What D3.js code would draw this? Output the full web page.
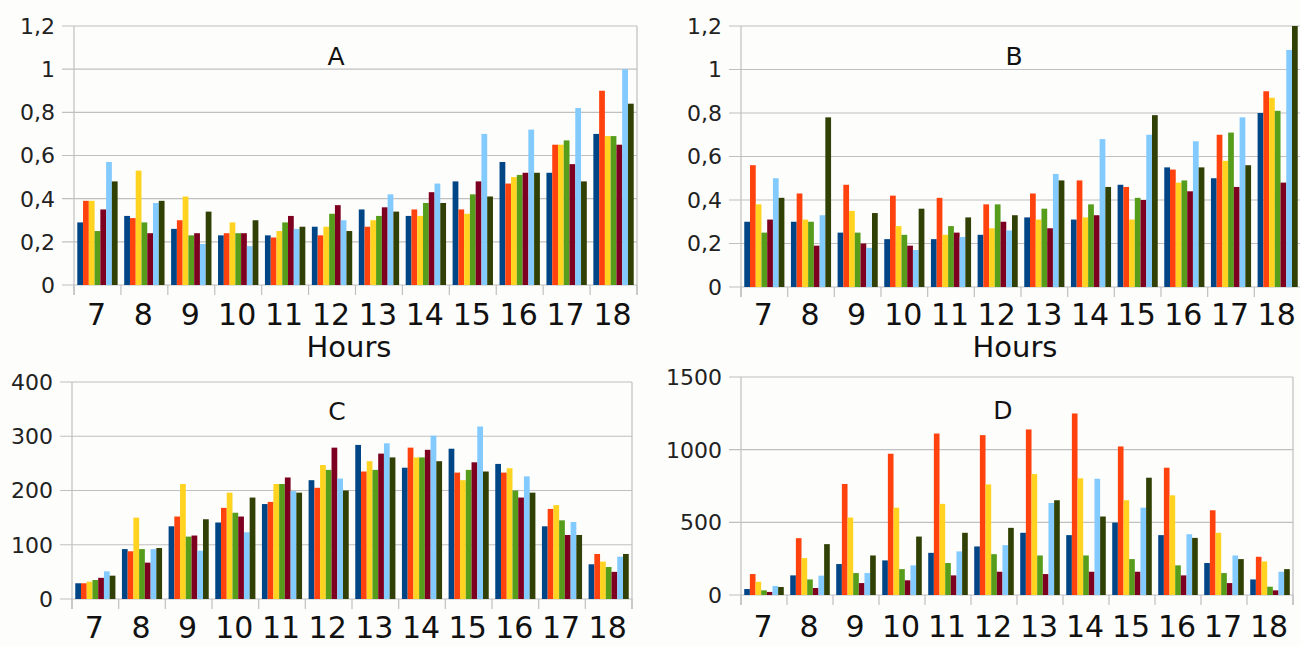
<!DOCTYPE html>
<html>
<head>
<meta charset="utf-8">
<script src="https://cdn.jsdelivr.net/npm/d3@7"></script>
<style>
  body { margin: 0; background: #fdfdfc; }
  svg { display: block; font-family: "DejaVu Sans", sans-serif; }
</style>
</head>
<body>
<div class="charts"></div>
<script>
// hours on the x axis (same for all four panels)
const hours = [7, 8, 9, 10, 11, 12, 13, 14, 15, 16, 17, 18]

// one row per series, one value per hour
const seriesA = [
  [0.29, 0.32, 0.26, 0.23, 0.23, 0.27, 0.35, 0.32, 0.48, 0.57, 0.52, 0.70],
  [0.39, 0.31, 0.30, 0.24, 0.22, 0.23, 0.27, 0.35, 0.35, 0.47, 0.65, 0.90],
  [0.39, 0.53, 0.41, 0.29, 0.25, 0.27, 0.30, 0.32, 0.33, 0.50, 0.65, 0.69],
  [0.25, 0.29, 0.23, 0.24, 0.29, 0.33, 0.32, 0.38, 0.42, 0.51, 0.67, 0.69],
  [0.35, 0.24, 0.24, 0.24, 0.32, 0.37, 0.36, 0.43, 0.48, 0.52, 0.56, 0.65],
  [0.57, 0.38, 0.19, 0.18, 0.26, 0.30, 0.42, 0.47, 0.70, 0.72, 0.82, 1.00],
  [0.48, 0.39, 0.34, 0.30, 0.27, 0.25, 0.34, 0.38, 0.41, 0.52, 0.48, 0.84]
]
const seriesB = [
  [0.30, 0.30, 0.25, 0.22, 0.22, 0.24, 0.32, 0.31, 0.47, 0.55, 0.50, 0.80],
  [0.56, 0.43, 0.47, 0.42, 0.41, 0.38, 0.43, 0.49, 0.46, 0.54, 0.70, 0.90],
  [0.38, 0.31, 0.35, 0.28, 0.24, 0.27, 0.31, 0.32, 0.31, 0.48, 0.58, 0.87],
  [0.25, 0.30, 0.25, 0.24, 0.28, 0.38, 0.36, 0.38, 0.41, 0.49, 0.71, 0.81],
  [0.31, 0.19, 0.20, 0.19, 0.25, 0.30, 0.27, 0.33, 0.40, 0.44, 0.46, 0.48],
  [0.50, 0.33, 0.18, 0.17, 0.23, 0.26, 0.52, 0.68, 0.70, 0.67, 0.78, 1.09],
  [0.41, 0.78, 0.34, 0.36, 0.32, 0.33, 0.49, 0.46, 0.79, 0.55, 0.56, 1.20]
]
const seriesC = [
  [29, 92, 134, 141, 175, 219, 284, 242, 277, 249, 134, 64],
  [29, 88, 152, 168, 179, 205, 235, 279, 233, 233, 166, 83],
  [32, 150, 212, 196, 212, 247, 254, 261, 219, 241, 173, 69],
  [35, 92, 115, 159, 212, 238, 238, 261, 238, 200, 145, 59],
  [39, 67, 117, 152, 224, 279, 268, 275, 252, 187, 118, 50],
  [51, 92, 89, 123, 199, 222, 287, 301, 318, 226, 142, 78],
  [43, 94, 147, 187, 196, 200, 261, 254, 235, 196, 118, 83]
]
const seriesD = [
  [41, 135, 213, 238, 290, 334, 428, 412, 498, 412, 220, 107],
  [144, 391, 764, 972, 1111, 1100, 1139, 1249, 1022, 876, 583, 263],
  [91, 254, 533, 601, 627, 761, 832, 803, 652, 686, 428, 231],
  [32, 107, 151, 178, 220, 281, 272, 272, 247, 204, 151, 57],
  [21, 48, 82, 101, 135, 160, 144, 160, 160, 135, 82, 32],
  [62, 133, 151, 204, 300, 343, 633, 800, 601, 418, 272, 160],
  [55, 350, 272, 402, 428, 462, 652, 540, 807, 393, 247, 178]
]

// y tick values
const ticksAB = [0, 0.2, 0.4, 0.6, 0.8, 1, 1.2]
const ticksC = [0, 100, 200, 300, 400]
const ticksD = [0, 500, 1000, 1500]

const titles = ['A', 'B', 'C', 'D']
const xTitle = 'Hours'

// libreoffice default palette
const colors = ['#004586', '#ff420e', '#ffd320', '#579d1c', '#7e0021', '#83caff', '#314004']

const svg = d3.select('.charts').append('svg')
    .attr('width', 1300)
    .attr('height', 646)

const fmt = v => String(v).replace('.', ',')

function drawPanel(p){
    const g = svg.append('g')

    const x0 = d3.scaleBand()
        .domain(hours)
        .range([p.left, p.right])
        .padding(0)
    const bw = x0.bandwidth()
    const x1 = d3.scaleBand()
        .domain(d3.range(p.series.length))
        .range([bw * 0.07, bw * 0.93])
        .padding(0)
    const y = d3.scaleLinear()
        .domain([0, d3.max(p.ticks)])
        .range([p.bottom, p.top])

    // gridlines + y tick marks
    g.selectAll('.grid').data(p.ticks).join('line')
        .attr('x1', p.left - 12)
        .attr('x2', p.right)
        .attr('y1', d => y(d))
        .attr('y2', d => y(d))
        .attr('stroke', '#c0c0c0')
        .attr('stroke-width', 1.2)

    g.selectAll('.ylab').data(p.ticks).join('text')
        .attr('x', p.left - 19)
        .attr('y', d => y(d))
        .attr('dy', '0.36em')
        .attr('text-anchor', 'end')
        .attr('font-size', 22)
        .attr('fill', '#222')
        .text(fmt)

    // x boundary ticks
    const bounds = hours.map(h => x0(h)).concat([p.right])
    g.selectAll('.xt').data(bounds).join('line')
        .attr('x1', d => d)
        .attr('x2', d => d)
        .attr('y1', p.bottom)
        .attr('y2', p.bottom + 10)
        .attr('stroke', '#c0c0c0')
        .attr('stroke-width', 1.2)

    // frame sides
    g.selectAll('.side').data([p.left, p.right]).join('line')
        .attr('x1', d => d)
        .attr('x2', d => d)
        .attr('y1', p.top)
        .attr('y2', p.bottom + 10)
        .attr('stroke', '#c0c0c0')
        .attr('stroke-width', 1.2)

    // bars
    p.series.forEach((vals, si) => {
        g.selectAll('.bar' + si).data(vals).join('rect')
            .attr('x', (d, i) => x0(hours[i]) + x1(si))
            .attr('y', d => y(d))
            .attr('width', x1.bandwidth())
            .attr('height', d => p.bottom - y(d))
            .attr('fill', colors[si])
    })

    g.selectAll('.xlab').data(hours).join('text')
        .attr('x', d => x0(d) + bw / 2 - 1)
        .attr('y', p.labelY)
        .attr('text-anchor', 'middle')
        .attr('font-size', 30)
        .attr('fill', '#111')
        .text(d => d)

    g.append('text')
        .attr('x', p.titleX)
        .attr('y', p.titleY)
        .attr('text-anchor', 'middle')
        .attr('font-size', 25)
        .attr('fill', '#111')
        .text(p.title)

    if (p.hours) {
        g.append('text')
            .attr('x', p.hoursX)
            .attr('y', 357)
            .attr('text-anchor', 'middle')
            .attr('font-size', 29)
            .attr('fill', '#111')
            .text(xTitle)
    }
}

drawPanel({series: seriesA, ticks: ticksAB, title: titles[0], left: 74, right: 637, top: 26, bottom: 285,
    labelY: 325, titleX: 336, titleY: 65, hours: true, hoursX: 349})
drawPanel({series: seriesB, ticks: ticksAB, title: titles[1], left: 741, right: 1301, top: 26, bottom: 287,
    labelY: 325, titleX: 1014, titleY: 65, hours: true, hoursX: 1015})
drawPanel({series: seriesC, ticks: ticksC, title: titles[2], left: 72, right: 632, top: 382, bottom: 599,
    labelY: 638, titleX: 337, titleY: 420, hours: false})
drawPanel({series: seriesD, ticks: ticksD, title: titles[3], left: 741, right: 1293, top: 377, bottom: 595,
    labelY: 637, titleX: 1003, titleY: 419, hours: false})
</script>
</body>
</html>
